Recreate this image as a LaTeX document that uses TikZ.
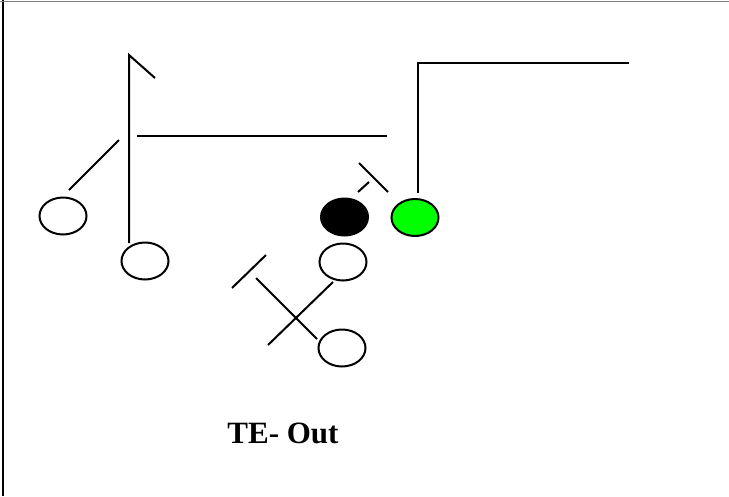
\documentclass[tikz,border=0pt]{standalone}
\usepackage{fontspec}
\setmainfont{Liberation Serif}
\usetikzlibrary{shapes.geometric}
\definecolor{brightgreen}{RGB}{0,255,0}
\tikzset{
  player/.style={ellipse, draw=black, line width=2pt, fill=white, minimum width=47pt, minimum height=37pt, inner sep=0pt},
  route/.style={line width=2pt, draw=black},
}
\begin{document}
\begin{tikzpicture}[x=1pt,y=-1pt]
\useasboundingbox (0,0) rectangle (729,496);
\draw[line width=2.2pt] (3,0) -- (3,496);
\draw[gray, line width=1pt] (0,1) -- (729,1);
% players
\node[player] (p1) at (63,216) {};
\node[player] (p2) at (145,261) {};
\node[player, fill=black] (c) at (344.5,217) {};
\node[player, fill=brightgreen] (te) at (415,217.5) {};
\node[player] (qb) at (343,262) {};
\node[player] (rb) at (342,348) {};
% route coordinates
\coordinate (a1) at (129,243);
\coordinate (a2) at (129,55);
\coordinate (a3) at (155,78);
\coordinate (b1) at (137,136);
\coordinate (b2) at (387,136);
\coordinate (d1) at (119,140);
\coordinate (d2) at (69,190);
\coordinate (t1) at (418,193);
\coordinate (t2) at (418,63);
\coordinate (t3) at (629,63);
\coordinate (k1) at (359,163);
\coordinate (k2) at (388,192);
\coordinate (k3) at (358,192);
\coordinate (k4) at (369,182);
\coordinate (q1) at (333,282);
\coordinate (q2) at (268,345);
\coordinate (r1) at (256,278);
\coordinate (r2) at (317,339);
\coordinate (s1) at (232,288);
\coordinate (s2) at (266,255);
% routes
\draw[route] (a1) -- (a2) -- (a3);
\draw[route] (b1) -- (b2);
\draw[route] (d1) -- (d2);
\draw[route] (t1) -- (t2) -- (t3);
\draw[route] (k1) -- (k2);
\draw[route] (k3) -- (k4);
\draw[route] (q1) -- (q2);
\draw[route] (r1) -- (r2);
\draw[route] (s1) -- (s2);
% label
\node[anchor=base, font=\bfseries\fontsize{31}{36}\selectfont, inner sep=0pt] (lbl) at (283,443) {TE- Out};
\end{tikzpicture}
\end{document}
